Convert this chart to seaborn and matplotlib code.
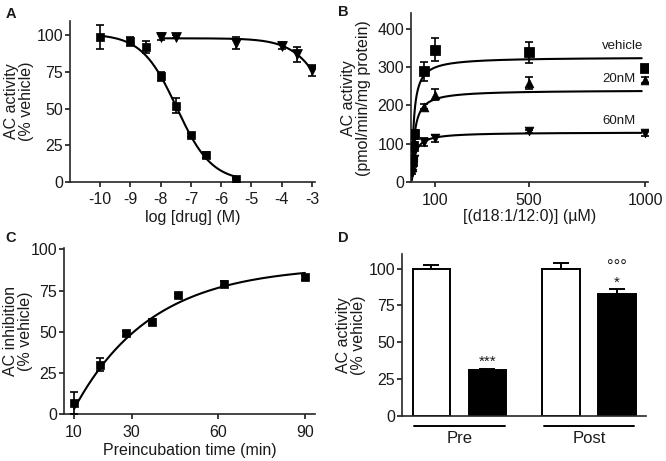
import numpy as np
import pandas as pd
import seaborn as sns
import matplotlib.pyplot as plt
from matplotlib.transforms import blended_transform_factory

# ---- A: dose response ----
a_sq_x = [-10, -9, -8.5, -8, -7.5, -7, -6.5, -5.5]
a_sq_y = [99, 96, 92, 72, 52, 32, 18, 2]
a_sq_err = [8, 3, 4, 3, 5, 1.5, 2, 0.5]
a_tri_x = [-8, -7.5, -5.5, -4, -3.5, -3]
a_tri_y = [99, 99, 95, 93, 87, 76]
a_tri_err = [2.5, 1, 4, 2.5, 5, 4]
# sigmoid fits: top, bottom, logIC50, hill slope
a_sq_fit = [101, 0, -7.47, 0.75]
a_tri_fit = [98, 0, -2.26, 0.73]

# ---- B: substrate curves ----
b_conc = [2.5, 5, 10, 50, 100, 500, 1000]
b_vehicle = [55, 95, 125, 289, 345, 338, 298]
b_vehicle_err = [8, 10, 10, 25, 30, 28, 7]
b_20nm = [40, 70, 105, 197, 228, 258, 267]
b_20nm_err = [6, 8, 8, 6, 15, 15, 8]
b_60nm = [25, 45, 60, 105, 114, 132, 127]
b_60nm_err = [5, 6, 6, 10, 10, 5, 6]
# Michaelis-Menten fits: Vmax, Km
b_fit_vehicle = [326, 9]
b_fit_20nm = [240, 11]
b_fit_60nm = [130, 12]

# ---- C: preincubation time ----
c_time = [10, 19, 28, 37, 46, 62, 90]
c_inhib = [7, 30, 49, 56, 72, 79, 83]
c_err = [6.5, 4, 1.5, 1.5, 1, 1.5, 1.5]
# one-phase association fit: plateau, k, x0
c_fit = [90, 0.0374, 9]

# ---- D: bars ----
d_group = ["Pre", "Pre", "Post", "Post"]
d_treat = ["vehicle", "drug", "vehicle", "drug"]
d_value = [100, 31, 100, 83]
d_err = [2.5, 0.8, 4, 3.5]

sns.set_style("ticks")
plt.rcParams["font.family"] = ["Liberation Sans", "DejaVu Sans"]
plt.rcParams["font.size"] = 11.5
plt.rcParams["axes.unicode_minus"] = False
plt.rcParams["axes.linewidth"] = 1.2
plt.rcParams["xtick.major.width"] = 1.2
plt.rcParams["ytick.major.width"] = 1.2
plt.rcParams["xtick.major.size"] = 3.5
plt.rcParams["ytick.major.size"] = 3.5
plt.rcParams["xtick.major.pad"] = 4
plt.rcParams["ytick.major.pad"] = 1.5
plt.rcParams["xtick.labelsize"] = 11.5
plt.rcParams["ytick.labelsize"] = 11.5
plt.rcParams["text.color"] = "#1a1a1a"
plt.rcParams["xtick.color"] = "#1a1a1a"
plt.rcParams["ytick.color"] = "#1a1a1a"
plt.rcParams["axes.labelcolor"] = "#1a1a1a"

fig = plt.figure(figsize=(6.66, 4.61), dpi=100)
axA = fig.add_axes([0.105, 0.606, 0.368, 0.349])
axB = fig.add_axes([0.617, 0.605, 0.356, 0.366])
axC = fig.add_axes([0.096, 0.101, 0.377, 0.362])
axD = fig.add_axes([0.604, 0.098, 0.366, 0.351])


def sigmoid(x, p):
    top, bottom, logic50, hill = p
    return bottom + (top - bottom) / (1 + 10 ** ((x - logic50) * hill))


def mm(x, p):
    return p[0] * x / (p[1] + x)


def errs(ax, x, y, e, size=3):
    ax.errorbar(x, y, yerr=e, fmt="none", ecolor="black", elinewidth=1.2,
                capsize=size, capthick=1.2, zorder=3)


def ylab(ax, text, xpos):
    ax.set_ylabel(text, fontsize=11.5, linespacing=1.0)
    ax.yaxis.set_label_coords(xpos, 0.5)


# Panel A
xs = np.linspace(-10, -5.5, 200)
sns.lineplot(x=xs, y=sigmoid(xs, a_sq_fit), ax=axA, color="black", lw=1.5)
xs = np.linspace(-8, -3, 200)
sns.lineplot(x=xs, y=sigmoid(xs, a_tri_fit), ax=axA, color="black", lw=1.5)
errs(axA, a_sq_x, a_sq_y, a_sq_err)
errs(axA, a_tri_x, a_tri_y, a_tri_err)
sns.scatterplot(x=a_sq_x, y=a_sq_y, ax=axA, marker="s", s=40, color="black",
                edgecolor="black", zorder=4)
sns.scatterplot(x=a_tri_x, y=a_tri_y, ax=axA, marker="v", s=50, color="black",
                edgecolor="black", zorder=4)
axA.set_xlim(-11, -2.9)
axA.set_ylim(0, 110)
axA.set_xticks(range(-10, -2))
axA.set_yticks([0, 25, 50, 75, 100])
axA.set_xlabel("log [drug] (M)", labelpad=2)
ylab(axA, "AC activity\n(% vehicle)", -0.145)

# Panel B
xs = np.linspace(0.5, 985, 600)
for p in [b_fit_vehicle, b_fit_20nm, b_fit_60nm]:
    sns.lineplot(x=xs, y=mm(xs, p), ax=axB, color="black", lw=1.5)
errs(axB, b_conc, b_vehicle, b_vehicle_err)
errs(axB, b_conc, b_20nm, b_20nm_err)
errs(axB, b_conc, b_60nm, b_60nm_err)
sns.scatterplot(x=b_conc, y=b_vehicle, ax=axB, marker="s", s=50, color="black",
                edgecolor="black", zorder=4)
sns.scatterplot(x=b_conc, y=b_20nm, ax=axB, marker="^", s=40, color="black",
                edgecolor="black", zorder=4)
sns.scatterplot(x=b_conc, y=b_60nm, ax=axB, marker="v", s=40, color="black",
                edgecolor="black", zorder=4)
axB.set_xlim(-4, 1012)
axB.set_ylim(0, 440)
axB.set_xticks([100, 500, 1000])
axB.set_yticks([0, 100, 200, 300, 400])
axB.set_xlabel("[(d18:1/12:0)] (\u00b5M)", labelpad=1)
ylab(axB, "AC activity\n(pmol/min/mg protein)", -0.17)
for lab, p, xr in [("vehicle", b_fit_vehicle, 990), ("20nM", b_fit_20nm, 960),
                   ("60nM", b_fit_60nm, 960)]:
    axB.text(xr, mm(975, p) + 32, lab, ha="right", va="center", fontsize=9.5)

# Panel C
xs = np.linspace(10, 90, 200)
plateau, k, x0 = c_fit
sns.lineplot(x=xs, y=plateau * (1 - np.exp(-k * (xs - x0))), ax=axC,
             color="black", lw=1.5)
errs(axC, c_time, c_inhib, c_err)
sns.scatterplot(x=c_time, y=c_inhib, ax=axC, marker="s", s=40, color="black",
                edgecolor="black", zorder=4)
axC.set_xlim(6.5, 93.5)
axC.set_ylim(0, 101)
axC.set_xticks([10, 30, 60, 90])
axC.set_yticks([0, 25, 50, 75, 100])
axC.set_xlabel("Preincubation time (min)", labelpad=2)
ylab(axC, "AC inhibition\n(% vehicle)", -0.125)

# Panel D
df = pd.DataFrame({"group": d_group, "treat": d_treat, "value": d_value,
                   "err": d_err})
sns.barplot(data=df, x="group", y="value", hue="treat", ax=axD,
            palette={"vehicle": "white", "drug": "black"}, edgecolor="black",
            linewidth=1.4, width=0.86, gap=0.33, errorbar=None, legend=False,
            zorder=2)
for cont, treat in zip(axD.containers, ["vehicle", "drug"]):
    sub = df[df.treat == treat]
    for bar, (_, row) in zip(cont, sub.iterrows()):
        cx = bar.get_x() + bar.get_width() / 2
        axD.errorbar(cx, row.value, yerr=[[0], [row.err]], fmt="none",
                     ecolor="black", elinewidth=1.4, capsize=6, capthick=1.4,
                     zorder=1)
# significance marks above the drug bars
drug_bars = axD.containers[1]
pre_x = drug_bars[0].get_x() + drug_bars[0].get_width() / 2
post_x = drug_bars[1].get_x() + drug_bars[1].get_width() / 2
axD.text(pre_x, 32, "***", ha="center", va="bottom", fontsize=11)
axD.text(post_x, 85.5, "*", ha="center", va="bottom", fontsize=11)
axD.text(post_x, 95.5, "\u00b0\u00b0\u00b0", ha="center", va="bottom",
         fontsize=12)
axD.set_xlim(-0.44, 1.44)
axD.set_ylim(0, 110)
axD.set_yticks([0, 25, 50, 75, 100])
axD.tick_params(axis="x", length=0, pad=11, labelsize=12)
axD.set_xlabel("")
ylab(axD, "AC activity\n(% vehicle)", -0.15)
trans = blended_transform_factory(axD.transData, axD.transAxes)
for c in [0, 1]:
    axD.plot([c - 0.35, c + 0.35], [-0.062, -0.062], color="black", lw=1.4,
             transform=trans, clip_on=False)

for ax in [axA, axB, axC, axD]:
    sns.despine(ax=ax)

for lab, x, y in [("A", 0.008, 0.985), ("B", 0.508, 0.99),
                  ("C", 0.008, 0.5), ("D", 0.508, 0.5)]:
    fig.text(x, y, lab, fontsize=10.5, fontweight="bold", va="top")

fig.savefig("out.png", dpi=100)
